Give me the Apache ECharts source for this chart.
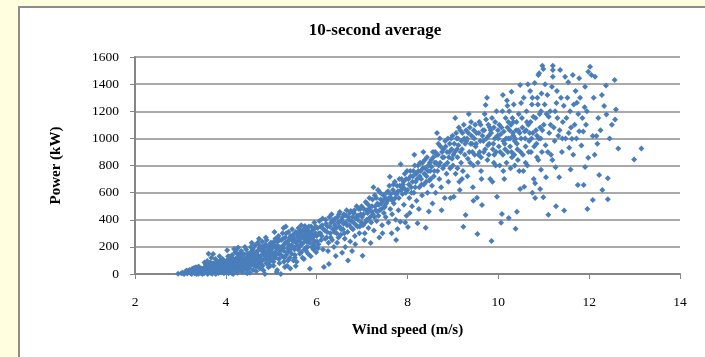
<!DOCTYPE html>
<html>
<head>
<meta charset="utf-8">
<script src="https://cdn.jsdelivr.net/npm/echarts@6/dist/echarts.min.js"></script>
<style>
html,body{margin:0;padding:0;background:#FFFFE0;}
#c{width:705px;height:357px;}
</style>
</head>
<body>
<div id="c"></div>
<script>
const titleText = '10-second average';
const xName = 'Wind speed (m/s)';
const yName = 'Power (kW)';
const xTicks = [2, 14, 2];     // min, max, interval
const yTicks = [0, 1600, 200]; // min, max, interval

// [wind speed (m/s), power (kW)]
const bin3 = [[2.95,2],[3.02,5],[3.08,0],[3.1,12],[3.15,3],[3.18,20],[3.22,8],[3.25,0],[3.28,15],[3.3,28],[3.32,5],[3.35,18],[3.38,35],[3.4,2],[3.42,22],[3.44,10],[3.46,40],[3.48,0],[3.5,25],[3.3,45],[3.36,0],[3.2,30],[3.12,18],[3.26,38],[3.45,30],[3.4,55],[3.34,50],[3.49,12],
[3.52,5],[3.54,30],[3.55,48],[3.57,15],[3.58,60],[3.6,0],[3.61,22],[3.63,40],[3.64,70],[3.66,10],[3.67,35],[3.69,55],[3.7,2],[3.71,28],[3.72,80],[3.74,45],[3.75,15],[3.76,62],[3.78,0],[3.79,38],[3.8,90],[3.81,20],[3.83,52],[3.84,8],[3.85,70],[3.87,30],[3.88,100],[3.89,45],[3.9,12],[3.91,65],[3.93,25],[3.94,85],[3.95,50],[3.96,5],[3.98,40],[3.99,72],[3.62,150],[3.68,120],[3.86,130],[3.77,110],[3.53,85],[3.59,95],[3.72,147],
[3.05,10],[3.14,25],[3.21,14],[3.27,22],[3.31,10],[3.37,28],[3.43,18],[3.47,34],[3.51,14],[3.56,38],[3.6,26],[3.65,48],[3.68,18],[3.73,34],[3.77,52],[3.82,40],[3.86,58],[3.9,32],[3.92,48],[3.97,60],[3.58,32],[3.7,64],[3.81,75],[3.95,95],[3.64,20],[3.75,30],[3.88,20],[3.99,28],[3.4,40],[3.33,32],[3.53,50],[3.84,88],[3.93,110],[3.66,85],[3.56,68]];
const bin4 = [[4.0,15],[4.01,60],[4.02,100],[4.04,35],[4.05,130],[4.06,5],[4.07,75],[4.09,48],[4.1,110],[4.11,25],[4.12,88],[4.14,140],[4.15,55],[4.16,0],[4.17,95],[4.19,30],[4.2,70],[4.21,160],[4.22,45],[4.24,120],[4.25,10],[4.26,85],[4.28,58],[4.29,135],[4.3,38],[4.31,100],[4.33,72],[4.34,170],[4.35,20],[4.36,115],[4.38,62],[4.39,90],[4.4,145],[4.41,40],[4.43,105],[4.44,75],[4.45,180],[4.46,30],[4.48,125],[4.49,65],[4.03,175],[4.18,185],[4.27,195],[4.42,200],[4.13,8],[4.37,15],[4.47,5],[4.24,184],
[4.5,90],[4.51,150],[4.52,45],[4.54,120],[4.55,200],[4.56,70],[4.58,170],[4.59,105],[4.6,30],[4.61,140],[4.63,85],[4.64,210],[4.65,125],[4.66,55],[4.68,160],[4.69,100],[4.7,230],[4.71,75],[4.72,135],[4.74,190],[4.75,40],[4.76,115],[4.78,175],[4.79,95],[4.8,240],[4.81,60],[4.82,150],[4.84,200],[4.85,110],[4.86,0],[4.87,170],[4.89,80],[4.9,250],[4.91,130],[4.92,195],[4.94,50],[4.95,160],[4.96,215],[4.97,100],[4.99,140],[4.57,230],[4.73,260],[4.88,270],[4.67,20],[4.53,10],[4.83,25],
[4.02,50],[4.05,82],[4.08,20],[4.1,90],[4.12,55],[4.15,118],[4.18,40],[4.2,100],[4.22,76],[4.25,150],[4.27,30],[4.3,120],[4.32,52],[4.35,95],[4.37,140],[4.4,68],[4.42,112],[4.45,50],[4.47,150],[4.5,120],[4.52,70],[4.55,160],[4.57,95],[4.6,185],[4.62,60],[4.65,150],[4.67,110],[4.7,170],[4.72,90],[4.75,210],[4.77,130],[4.8,100],[4.82,180],[4.85,140],[4.87,220],[4.9,110],[4.92,160],[4.95,120],[4.97,190],[4.99,230],[4.08,125],[4.23,95],[4.33,160],[4.46,105],[4.58,135],[4.69,60],[4.81,200],[4.93,75],[4.15,65],[4.28,80],[4.41,85],[4.53,100],[4.64,90],[4.77,80],[4.89,150],[4.98,60]];
const bin5 = [[5.0,180],[5.01,100],[5.02,230],[5.04,140],[5.05,60],[5.06,210],[5.08,160],[5.09,260],[5.1,120],[5.11,190],[5.12,15],[5.14,240],[5.15,150],[5.16,280],[5.17,110],[5.19,200],[5.2,170],[5.21,0],[5.22,250],[5.24,130],[5.25,300],[5.26,190],[5.28,90],[5.29,220],[5.3,52],[5.31,270],[5.33,140],[5.34,230],[5.35,60],[5.36,190],[5.38,310],[5.39,250],[5.4,170],[5.41,120],[5.43,280],[5.44,210],[5.45,150],[5.46,330],[5.48,240],[5.49,100],[5.07,310],[5.27,340],[5.42,40],[5.13,30],[5.32,350],
[5.5,200],[5.51,260],[5.52,140],[5.54,310],[5.55,230],[5.56,90],[5.58,280],[5.59,180],[5.6,340],[5.61,250],[5.63,150],[5.64,300],[5.65,210],[5.66,360],[5.68,270],[5.69,120],[5.7,320],[5.71,230],[5.73,180],[5.74,354],[5.75,290],[5.76,250],[5.78,200],[5.79,330],[5.8,270],[5.81,150],[5.83,310],[5.84,230],[5.85,39],[5.86,290],[5.88,350],[5.89,200],[5.9,260],[5.91,320],[5.93,180],[5.94,280],[5.95,380],[5.96,240],[5.98,300],[5.99,160],[5.54,59],[5.72,110],[5.87,130],
[5.01,160],[5.03,200],[5.06,120],[5.08,240],[5.11,150],[5.13,210],[5.16,180],[5.18,250],[5.21,140],[5.23,200],[5.26,260],[5.28,170],[5.31,230],[5.33,300],[5.36,160],[5.38,220],[5.41,270],[5.43,190],[5.46,250],[5.48,290],[5.51,180],[5.53,240],[5.56,300],[5.58,210],[5.61,270],[5.63,320],[5.66,230],[5.68,290],[5.71,330],[5.73,260],[5.76,310],[5.78,240],[5.81,290],[5.83,350],[5.86,250],[5.88,300],[5.91,270],[5.93,330],[5.96,290],[5.98,350],[5.05,90],[5.18,80],[5.37,100],[5.52,120],[5.66,160],[5.8,200],[5.92,220],[5.15,260],[5.29,120],[5.47,200],[5.62,200],[5.77,170],[5.97,200]];
const bin6 = [[6.0,280],[6.02,340],[6.04,220],[6.06,390],[6.08,300],[6.1,250],[6.12,360],[6.14,180],[6.16,52],[6.18,320],[6.2,400],[6.22,270],[6.24,350],[6.26,230],[6.27,74],[6.28,420],[6.3,300],[6.32,380],[6.34,250],[6.35,398],[6.36,330],[6.38,200],[6.4,360],[6.42,133],[6.44,300],[6.46,420],[6.48,270],[6.03,190],[6.13,410],[6.25,170],[6.45,230],[6.33,440],
[6.5,350],[6.51,457],[6.53,290],[6.55,400],[6.56,157],[6.58,330],[6.6,440],[6.62,260],[6.64,380],[6.66,470],[6.68,310],[6.69,100],[6.7,420],[6.72,360],[6.74,240],[6.75,465],[6.76,390],[6.78,170],[6.8,330],[6.82,450],[6.84,280],[6.86,410],[6.88,500],[6.9,350],[6.92,430],[6.94,300],[6.96,480],[6.98,380],[6.63,200],[6.85,220],
[6.01,240],[6.05,300],[6.09,350],[6.11,280],[6.15,330],[6.19,260],[6.21,370],[6.23,310],[6.29,350],[6.31,270],[6.37,390],[6.39,310],[6.41,410],[6.43,340],[6.47,380],[6.49,440],[6.52,390],[6.54,330],[6.57,420],[6.59,370],[6.61,300],[6.65,430],[6.67,360],[6.71,400],[6.73,450],[6.77,340],[6.79,420],[6.81,380],[6.83,470],[6.87,360],[6.89,430],[6.91,400],[6.93,480],[6.95,350],[6.97,440],[6.99,500]];
const bin7 = [[7.0,420],[7.01,135],[7.02,360],[7.04,480],[7.06,300],[7.08,530],[7.1,400],[7.12,450],[7.14,340],[7.16,560],[7.18,420],[7.19,228],[7.2,380],[7.22,500],[7.24,440],[7.26,320],[7.28,580],[7.3,470],[7.32,390],[7.34,520],[7.36,430],[7.38,270],[7.4,600],[7.42,480],[7.44,360],[7.46,540],[7.48,450],[7.05,250],[7.25,640],[7.45,300],[7.35,620],
[7.5,500],[7.52,420],[7.54,600],[7.56,540],[7.58,380],[7.6,650],[7.61,717],[7.62,480],[7.64,560],[7.66,440],[7.68,620],[7.7,520],[7.72,680],[7.74,400],[7.76,590],[7.78,331],[7.8,470],[7.82,700],[7.84,386],[7.85,809],[7.86,620],[7.88,640],[7.9,660],[7.92,510],[7.94,740],[7.96,600],[7.98,430],[7.65,300],[7.75,250],[7.95,380],
[7.03,440],[7.07,380],[7.09,470],[7.11,520],[7.13,400],[7.15,480],[7.17,500],[7.21,460],[7.23,550],[7.27,420],[7.29,500],[7.31,560],[7.33,460],[7.37,510],[7.39,470],[7.41,550],[7.43,520],[7.47,580],[7.49,490],[7.51,560],[7.53,520],[7.57,610],[7.59,560],[7.63,590],[7.67,540],[7.69,660],[7.71,600],[7.73,560],[7.77,650],[7.79,610],[7.81,560],[7.83,650],[7.87,700],[7.89,590],[7.91,680],[7.93,630],[7.97,700],[7.99,760]];
const bin8 = [[8.0,620],[8.01,346],[8.02,700],[8.04,560],[8.06,760],[8.08,640],[8.1,500],[8.12,720],[8.14,600],[8.16,800],[8.18,680],[8.2,540],[8.22,375],[8.24,760],[8.26,640],[8.28,820],[8.3,700],[8.32,580],[8.34,780],[8.36,660],[8.38,840],[8.4,341],[8.42,720],[8.44,600],[8.46,800],[8.47,460],[8.48,690],[8.05,450],[8.25,480],[8.35,900],[8.15,880],
[8.5,760],[8.52,840],[8.54,650],[8.56,900],[8.58,720],[8.6,820],[8.62,600],[8.64,880],[8.66,760],[8.68,960],[8.7,700],[8.71,1000],[8.72,820],[8.74,640],[8.76,900],[8.78,780],[8.8,860],[8.82,560],[8.84,940],[8.86,740],[8.88,820],[8.9,680],[8.92,900],[8.94,780],[8.96,1000],[8.98,850],[8.55,520],[8.75,470],[8.95,560],[8.65,1040],
[8.03,660],[8.07,720],[8.09,600],[8.11,680],[8.13,760],[8.17,640],[8.19,740],[8.21,700],[8.23,800],[8.27,720],[8.29,760],[8.31,660],[8.33,820],[8.37,740],[8.39,780],[8.41,680],[8.43,860],[8.45,760],[8.49,820],[8.51,700],[8.53,790],[8.57,860],[8.59,760],[8.61,900],[8.63,820],[8.67,880],[8.69,800],[8.73,940],[8.77,860],[8.79,920],[8.81,800],[8.83,980],[8.87,900],[8.89,1000],[8.91,860],[8.93,960],[8.97,920],[8.99,1020]];
const bin9 = [[9.0,800],[9.02,570],[9.04,900],[9.06,740],[9.08,1000],[9.1,860],[9.12,950],[9.14,680],[9.16,1060],[9.18,820],[9.2,920],[9.22,760],[9.23,349],[9.24,1100],[9.26,880],[9.28,435],[9.3,980],[9.32,720],[9.34,1040],[9.36,900],[9.38,820],[9.4,1120],[9.42,960],[9.44,640],[9.46,1060],[9.48,880],[9.05,1150],[9.15,620],[9.35,1180],[9.45,540],[9.25,1000],[9.1,780],[9.33,850],
[9.5,940],[9.52,1040],[9.53,563],[9.54,295],[9.56,880],[9.58,1120],[9.6,980],[9.62,760],[9.64,509],[9.66,1060],[9.68,900],[9.7,1180],[9.72,1246],[9.74,1000],[9.76,840],[9.78,1100],[9.8,960],[9.82,700],[9.84,1040],[9.85,243],[9.86,1150],[9.87,681],[9.88,920],[9.9,1080],[9.92,1000],[9.94,800],[9.96,1200],[9.97,570],[9.98,1020],[9.55,820],[9.65,1020],[9.75,1300],[9.95,900],[9.83,1060],[9.63,700],[9.77,950],[9.91,880],
[9.01,880],[9.03,960],[9.07,1040],[9.09,920],[9.11,1000],[9.13,1080],[9.17,900],[9.19,980],[9.21,1040],[9.27,960],[9.29,1060],[9.31,1000],[9.37,1080],[9.39,960],[9.41,1020],[9.43,900],[9.47,1000],[9.49,1100],[9.51,960],[9.57,1040],[9.59,900],[9.61,1100],[9.67,980],[9.69,1060],[9.71,920],[9.73,1140],[9.79,1020],[9.81,1080],[9.89,960],[9.93,1120],[9.99,1060],[9.62,860],[9.79,880],[9.9,820],[9.45,800],[9.2,700]];
const bin10 = [[10.0,1000],[10.02,1100],[10.04,900],[10.06,378],[10.08,442],[10.1,1320],[10.12,1050],[10.14,960],[10.16,1150],[10.18,820],[10.2,1080],[10.22,1000],[10.23,413],[10.24,1200],[10.26,940],[10.28,1100],[10.3,860],[10.32,1040],[10.34,1250],[10.36,980],[10.38,334],[10.4,1120],[10.41,459],[10.42,920],[10.44,1060],[10.46,760],[10.48,1394],[10.48,626],[10.03,800],[10.09,1200],[10.13,700],[10.19,1280],[10.27,780],[10.31,1150],[10.37,1000],[10.43,840],[10.05,1030],[10.15,920],[10.25,1060],[10.35,880],[10.45,1180],[10.11,980],[10.21,900],[10.33,1020],[10.29,1344],
[10.5,1000],[10.52,1150],[10.54,880],[10.56,1300],[10.57,644],[10.58,1050],[10.6,940],[10.62,1200],[10.64,800],[10.66,1100],[10.68,980],[10.7,1350],[10.72,900],[10.74,1250],[10.76,1040],[10.78,700],[10.8,1408],[10.81,560],[10.81,669],[10.82,1150],[10.84,960],[10.86,1300],[10.88,840],[10.9,1480],[10.92,627],[10.92,1080],[10.94,768],[10.94,1200],[10.96,900],[10.99,566],[10.55,760],[10.65,1400],[10.75,600],[10.85,1020],[10.95,1330],[10.61,1060],[10.71,1120],[10.87,1250],[10.93,1000],
[10.01,940],[10.07,1080],[10.1,880],[10.17,1000],[10.22,1120],[10.26,1000],[10.29,900],[10.33,1120],[10.39,1060],[10.41,960],[10.47,1040],[10.49,900],[10.53,1080],[10.59,1000],[10.63,1120],[10.67,900],[10.69,1040],[10.73,1000],[10.77,1160],[10.79,940],[10.83,1060],[10.89,1000],[10.91,1180],[10.97,1060],[10.11,760],[10.36,800],[10.6,820],[10.85,860],[10.2,1240],[10.5,1260],[10.75,1300]];
const bin11 = [[11.0,1100],[11.02,1250],[11.04,950],[11.05,714],[11.06,1180],[11.08,1320],[11.1,436],[11.12,1040],[11.14,1200],[11.16,880],[11.18,1380],[11.2,1536],[11.2,1504],[11.2,1455],[11.22,1080],[11.24,980],[11.26,788],[11.27,500],[11.28,1260],[11.3,1150],[11.32,1020],[11.34,714],[11.36,1504],[11.38,1300],[11.4,900],[11.42,1120],[11.44,1240],[11.45,468],[11.47,1455],[11.48,1000],[10.97,1536],[10.99,1511],[10.88,1467],[11.03,1400],[11.15,1100],[11.25,1200],[11.35,1060],[11.09,900],[11.19,840],[11.11,1160],[11.29,1350],[11.41,1000],
[11.5,1150],[11.52,1300],[11.54,1414],[11.56,930],[11.58,1200],[11.59,771],[11.6,1080],[11.62,998],[11.64,1467],[11.66,1250],[11.68,1100],[11.7,1350],[11.73,1262],[11.75,656],[11.76,1180],[11.78,1443],[11.78,1052],[11.8,1300],[11.83,948],[11.85,1150],[11.88,656],[11.9,1230],[11.91,1381],[11.91,789],[11.93,1100],[11.95,1200],[11.96,479],[11.98,1492],[11.98,858],[11.55,1040],[11.65,880],[11.72,1000],[11.87,1050]];
const bin12 = [[12.02,1528],[12.05,1467],[12.08,1017],[12.08,545],[12.1,1300],[12.13,1455],[12.16,1017],[12.2,1150],[12.22,730],[12.25,1060],[12.29,620],[12.33,1238],[12.37,1389],[12.38,1176],[12.41,706],[12.41,551],[12.45,1000],[12.5,1100],[12.56,1430],[12.57,1139],[12.59,1213],[12.64,925],[12.99,845],[13.15,925],[12.12,880],[12.28,1320],[12.18,960]];

const points = [].concat(bin3, bin4, bin5, bin6, bin7, bin8, bin9, bin10, bin11, bin12);

const serif = '"Liberation Serif", "Times New Roman", serif';
const chart = echarts.init(document.getElementById('c'), null, {renderer: 'canvas'});
chart.setOption({
  backgroundColor: '#FFFFE0',
  animation: false,
  graphic: [{
    type: 'rect', z: -10, silent: true,
    shape: {x: 19, y: 7, width: 700, height: 360},
    style: {fill: '#FFFFFF', stroke: '#8C8C8C', lineWidth: 2}
  }],
  title: {
    text: titleText, left: 370, top: 17, textAlign: 'center',
    textStyle: {fontFamily: serif, fontWeight: 'bold', fontSize: 17, color: '#000'}
  },
  grid: {left: 135, right: 25, top: 57, bottom: 83, containLabel: false},
  xAxis: {
    type: 'value', min: xTicks[0], max: xTicks[1], interval: xTicks[2],
    name: xName, nameLocation: 'middle', nameGap: 49,
    nameTextStyle: {fontFamily: serif, fontWeight: 'bold', fontSize: 15, color: '#000'},
    axisLine: {show: true, onZero: false, lineStyle: {color: '#868686', width: 2}},
    axisTick: {show: true, length: 5, inside: false, lineStyle: {color: '#868686', width: 1}},
    axisLabel: {margin: 21, fontFamily: serif, fontSize: 13.5, color: '#000', formatter: v => String(v)},
    splitLine: {show: false}
  },
  yAxis: {
    type: 'value', min: yTicks[0], max: yTicks[1], interval: yTicks[2],
    name: yName, nameLocation: 'middle', nameGap: 71, nameRotate: 90,
    nameTextStyle: {fontFamily: serif, fontWeight: 'bold', fontSize: 15, color: '#000'},
    axisLine: {show: true, lineStyle: {color: '#868686', width: 2}},
    axisTick: {show: true, length: 5, inside: false, lineStyle: {color: '#868686', width: 1}},
    axisLabel: {margin: 16, fontFamily: serif, fontSize: 13.5, color: '#000', formatter: v => String(v)},
    splitLine: {show: true, lineStyle: {color: '#8C8C8C', width: 1.5}}
  },
  series: [{
    type: 'scatter',
    data: points,
    symbol: 'diamond',
    symbolSize: 6,
    large: false,
    itemStyle: {color: '#4A7EBB', opacity: 1}
  }]
});
</script>
</body>
</html>
